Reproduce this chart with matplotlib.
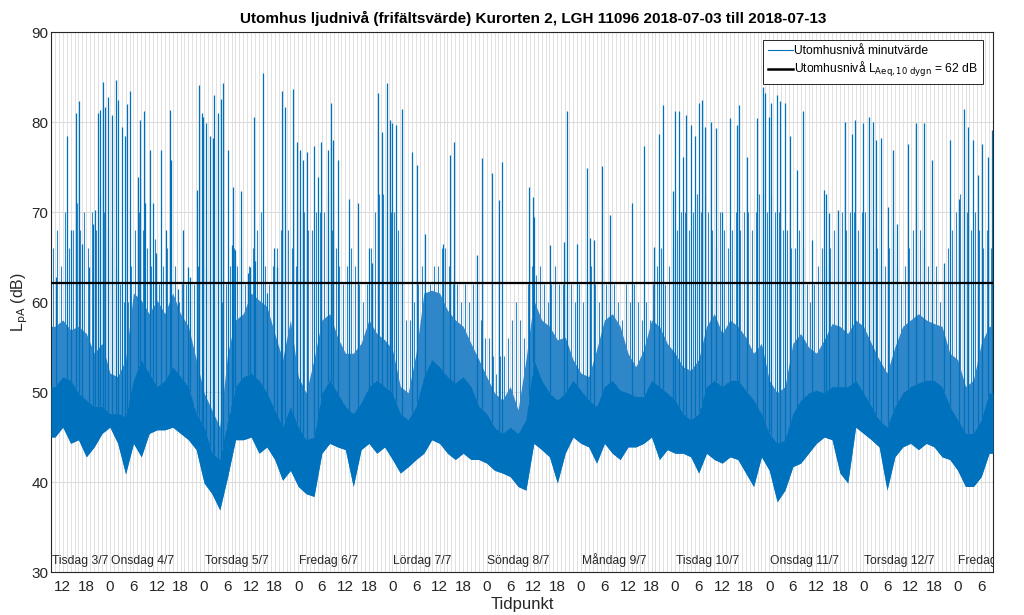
import numpy as np
import matplotlib
matplotlib.use('Agg')
import matplotlib.pyplot as plt
from matplotlib.ticker import FixedLocator, MultipleLocator
from matplotlib.lines import Line2D

plt.rcParams['font.family'] = ['Liberation Sans', 'DejaVu Sans']

# ---------------- data ----------------
START_HOUR = 9          # series starts 2018-07-03 09:00
N_HOURS = 240           # 10 days
BIN_H = 2               # envelope values per 2-hour bin

# lower envelope of the minute values (dB), per 2-hour bin
lo = [45.0, 46.1, 44.3, 44.7, 42.8, 43.9, 45.4, 46.1, 44.3, 40.9, 44.3, 42.8, 45.4, 45.8, 45.8,
      46.1, 45.4, 44.7, 43.6, 39.9, 38.7, 36.9, 40.6, 44.7, 44.7, 45.0, 43.2, 43.9, 42.5, 40.2,
      41.3, 39.5, 38.7, 38.4, 43.2, 44.3, 43.9, 43.6, 39.5, 43.6, 44.3, 43.2, 43.9, 42.5, 41.0,
      41.7, 42.5, 43.2, 44.7, 44.3, 43.2, 42.5, 43.2, 42.5, 42.5, 42.1, 41.3, 41.0, 40.6, 39.5,
      39.1, 44.3, 43.6, 42.8, 39.9, 43.2, 45.0, 44.3, 43.9, 42.1, 44.3, 43.2, 42.5, 43.9, 43.9,
      44.3, 45.0, 42.5, 43.6, 43.2, 43.2, 42.8, 41.0, 43.2, 42.5, 42.1, 42.8, 42.5, 41.0, 39.5,
      42.8, 41.3, 37.8, 39.1, 41.7, 42.1, 43.2, 44.3, 45.0, 44.7, 41.0, 39.9, 46.1, 45.4, 44.7,
      43.9, 39.1, 42.8, 43.9, 44.3, 43.6, 44.3, 43.9, 42.8, 42.5, 41.3, 39.5, 39.5, 40.6, 43.2]

# top of the dense core of the minute values (dB), per 2-hour bin
core = [50.6, 51.7, 51.3, 49.9, 49.1, 48.4, 48.4, 47.6, 47.6, 47.3, 51.3, 53.6, 52.1, 50.6, 51.3,
        52.8, 51.7, 50.6, 47.6, 46.1, 43.2, 42.5, 46.9, 50.6, 51.7, 52.1, 51.3, 49.9, 48.0, 46.1,
        48.4, 46.1, 44.7, 45.0, 49.9, 51.3, 49.9, 48.4, 47.6, 48.8, 50.6, 51.3, 50.6, 49.9, 47.6,
        46.9, 48.4, 51.7, 53.6, 52.8, 51.7, 51.0, 51.7, 50.6, 48.4, 47.6, 46.1, 45.4, 46.1, 45.4,
        46.9, 53.6, 51.3, 49.9, 49.1, 49.9, 51.3, 50.2, 49.1, 48.4, 50.6, 51.3, 50.2, 49.9, 49.5,
        49.5, 51.3, 50.6, 49.9, 49.1, 47.6, 46.9, 47.6, 50.6, 51.3, 50.6, 51.3, 51.3, 50.2, 49.1,
        47.6, 45.4, 44.3, 44.7, 47.6, 49.1, 49.9, 50.2, 49.9, 50.6, 50.6, 50.6, 51.3, 49.9, 48.4,
        46.9, 46.1, 48.4, 49.9, 50.6, 51.0, 51.3, 51.3, 50.6, 48.4, 46.9, 45.4, 45.4, 46.9, 49.9]

# top of the less dense upper fringe (dB), per 2-hour bin
fringe = [57.3, 58.0, 56.9, 57.3, 56.5, 54.3, 55.4, 52.1, 51.7, 53.6, 61.0, 60.2, 58.7, 60.2, 58.7,
          61.0, 58.7, 57.3, 53.6, 49.9, 48.0, 46.1, 54.3, 58.0, 58.7, 61.0, 60.2, 59.5, 56.5, 53.6,
          58.0, 51.7, 49.9, 53.6, 58.0, 58.7, 56.1, 54.3, 54.3, 55.4, 58.0, 56.5, 55.8, 54.7, 50.6,
          49.9, 54.3, 61.0, 61.3, 61.0, 59.1, 58.0, 57.3, 55.4, 53.6, 51.7, 49.9, 49.1, 50.6, 48.0,
          53.6, 60.2, 58.0, 57.3, 55.8, 56.1, 53.6, 52.1, 51.7, 54.7, 58.0, 58.7, 57.3, 54.3, 52.8,
          54.7, 58.0, 57.3, 55.4, 54.3, 52.8, 52.4, 53.6, 57.3, 58.7, 56.5, 58.0, 57.3, 56.1, 54.3,
          55.4, 51.3, 49.9, 50.6, 55.4, 56.5, 55.0, 54.3, 55.8, 57.6, 57.3, 56.5, 58.0, 57.3, 55.4,
          53.6, 52.1, 55.0, 57.3, 58.0, 58.7, 58.0, 57.6, 57.3, 54.3, 53.6, 50.6, 51.3, 55.4, 57.3]

# level reached by the many moderate peaks in each hour (dB), 24 per row, rows start 09:00
mod_peak = [66, 68, 64, 70, 66, 68, 71, 68, 70, 66, 70, 68, 72, 70, 68, 66, 64, 62, 60, 60, 64, 68, 70, 68,
            66, 64, 67, 62, 64, 66, 62, 64, 60, 62, 62, 60, 62, 64, 66, 64, 62, 60, 58, 60, 62, 64, 66, 64,
            66, 62, 64, 66, 68, 70, 64, 62, 64, 66, 68, 70, 68, 66, 64, 70, 70, 68, 68, 70, 70, 70, 72, 68,
            66, 64, 62, 64, 66, 64, 62, 60, 62, 66, 70, 72, 72, 70, 70, 70, 68, 66, 58, 58, 60, 62, 64, 60,
            62, 64, 64, 66, 66, 64, 62, 62, 60, 62, 60, 62, 60, 58, 56, 56, 54, 52, 54, 54, 56, 58, 60, 58,
            56, 62, 64, 63, 64, 62, 60, 62, 64, 62, 62, 60, 62, 60, 62, 60, 62, 64, 62, 60, 64, 62, 60, 62,
            60, 58, 62, 60, 62, 60, 58, 60, 58, 62, 64, 66, 62, 64, 66, 68, 70, 70, 68, 70, 72, 70, 72, 70,
            68, 66, 70, 68, 66, 68, 70, 68, 70, 70, 68, 70, 72, 72, 70, 72, 70, 70, 68, 68, 66, 66, 68, 66,
            62, 60, 62, 64, 66, 64, 66, 68, 70, 70, 68, 70, 70, 68, 70, 70, 70, 68, 66, 64, 64, 66, 68, 64,
            62, 64, 66, 68, 70, 68, 66, 64, 62, 64, 60, 62, 66, 68, 70, 72, 70, 70, 68, 70, 68, 66, 68, 66]

# isolated loud events: hours since start and peak level (dB)
spike_h = [1.4, 4.0, 5.1, 6.3, 7.1, 8.0, 9.7, 10.8, 11.2, 11.9, 12.5, 13.2, 13.8, 14.6, 15.6, 16.5,
           17.1, 18.0, 18.8, 19.3, 20.1, 22.2, 22.7, 23.7, 23.9, 25.2, 25.9, 26.7, 28.0, 29.4, 30.3,
           30.7, 32.4, 33.7, 35.0, 35.4, 37.1, 37.7, 38.4, 38.8, 39.6, 40.5, 41.2, 41.6, 42.6, 43.2,
           43.7, 45.2, 46.0, 46.4, 47.0, 48.3, 50.3, 50.7, 51.8, 52.0, 54.1, 55.1, 56.8, 57.6, 58.6,
           58.9,
           59.6, 61.7, 62.6, 63.4, 64.3, 65.1, 67.1, 67.9, 68.8, 70.7, 71.3, 71.9, 73.2, 76.0, 78.1,
           80.9, 81.7, 83.4, 84.4, 85.5, 86.4, 87.0, 87.8, 89.3, 92.1, 93.3, 95.3, 99.8, 101.7,
           102.7, 108.5, 109.7, 112.3, 114.2, 114.8,
           121.8, 122.9, 123.1, 127.1, 130.7, 131.4, 134.1, 136.5, 137.3, 138.4, 140.4, 142.3,
           147.9, 151.2, 153.7, 155.0, 155.8, 158.4, 159.1, 160.0, 160.9, 161.7, 163.1, 164.1,
           165.2, 165.8, 166.5, 168.2, 169.3, 171.0, 173.0, 174.7, 175.4, 177.2, 179.8,
           181.5, 181.9, 182.9, 183.4, 184.9, 185.7, 187.0, 188.3, 190.0, 191.7, 194.0, 197.0,
           197.4, 198.2, 200.6, 202.3, 204.0, 204.8, 207.0, 208.5, 209.5, 210.2, 211.5, 213.3,
           214.6, 215.5, 218.4, 220.4, 222.3, 224.4, 227.4, 229.0, 231.4, 232.7, 233.7, 235.0,
           236.1, 237.1, 238.8, 239.8]
spike_v = [62.8, 78.4, 68.0, 81.0, 82.3, 66.5, 63.9, 68.7, 70.2, 81.0, 81.3, 84.5, 81.7, 82.8, 80.8, 84.7,
           82.4, 79.5, 78.4, 82.0, 83.4, 73.9, 80.2, 81.2, 71.0, 76.9, 71.0, 65.4, 76.9, 68.0, 81.3,
           75.8, 61.5, 68.0, 63.9, 62.8, 72.4, 84.1, 81.0, 80.6, 79.9, 78.4, 78.2, 83.0, 81.0, 82.6,
           84.3, 76.9, 66.3, 72.8, 65.8, 72.3, 63.2, 63.9, 80.6, 64.6, 85.4, 61.0, 66.0, 63.9, 62.0,
           83.4,
           81.7, 83.7, 77.8, 76.9, 75.8, 76.7, 77.3, 73.9, 77.8, 76.9, 82.1, 78.0, 75.8, 71.5, 71.0,
           66.0, 64.3, 83.2, 78.9, 84.3, 80.2, 79.9, 79.7, 81.5, 76.7, 75.2, 67.6, 66.5, 76.3,
           77.8, 65.2, 76.0, 74.3, 71.3, 75.6,
           72.8, 71.7, 69.5, 66.3, 66.7, 81.2, 66.5, 74.9, 67.1, 66.9, 75.1, 69.7,
           71.0, 77.3, 66.1, 78.7, 81.9, 72.3, 81.2, 81.2, 76.1, 80.8, 79.7, 78.4,
           82.1, 82.4, 79.5, 80.0, 79.3, 70.0, 80.4, 79.7, 81.9, 76.1, 80.4,
           83.9, 83.2, 80.6, 82.1, 83.0, 82.3, 82.1, 78.4, 74.7, 81.2, 66.9, 72.4,
           72.0, 69.9, 70.2, 80.0, 78.7, 80.2, 79.9, 80.6, 80.0, 78.0, 78.2, 70.6,
           76.9, 68.7, 77.6, 79.9, 79.9, 75.8, 64.3, 78.0, 71.5, 81.5, 79.5, 78.0,
           74.1, 77.6, 76.1, 79.1]

LAEQ = 62.1
day_names = ['Tisdag 3/7', 'Onsdag 4/7', 'Torsdag 5/7', 'Fredag 6/7', 'Lördag 7/7',
             'Söndag 8/7', 'Måndag 9/7', 'Tisdag 10/7', 'Onsdag 11/7', 'Torsdag 12/7',
             'Fredag 13/7']

title = 'Utomhus ljudnivå (frifältsvärde) Kurorten 2, LGH 11096 2018-07-03 till 2018-07-13'

# ---------------- drawing ----------------
BLUE = '#0072BD'
lo_a = np.array(lo)
core_a = np.array(core)
fr_a = np.array(fringe)
nb = len(lo_a)
xc = np.arange(nb) * BIN_H + BIN_H / 2.0
xe = np.concatenate([[0], xc, [N_HOURS]])
def ext(a):
    return np.concatenate([[a[0]], a, [a[-1]]])

fig = plt.figure(figsize=(10.24, 6.15), dpi=100)
ax = fig.add_axes([51 / 1024, 1 - 572 / 615, 942 / 1024, 540 / 615])

ax.fill_between(xe, ext(lo_a), ext(fr_a), color='#2f86c9', lw=0, zorder=2)
ax.fill_between(xe, ext(lo_a), ext(core_a), color=BLUE, lw=0, zorder=3)

# moderate peaks, one per hour
mh = np.arange(len(mod_peak)) + 0.5
ax.vlines(mh, np.interp(mh, xc, core_a), mod_peak, color='#2f86c9', lw=0.8, zorder=3)

# isolated loud events
sh = np.array(spike_h)
sv = np.array(spike_v)
base = np.interp(sh, xc, core_a)
ax.vlines(sh, base, sv, color=BLUE, lw=0.9, zorder=4)

ax.axhline(LAEQ, color='black', lw=1.6, zorder=5)

ax.set_xlim(0, N_HOURS)
ax.set_ylim(30, 90)

# ticks every 6 hours, labelled with the hour of day
tick_h = [h for h in range(N_HOURS + 1) if (START_HOUR + h) % 6 == 0]
ax.xaxis.set_major_locator(FixedLocator(tick_h))
ax.set_xticklabels([str((START_HOUR + h) % 24) for h in tick_h])
ax.xaxis.set_minor_locator(MultipleLocator(1))
ax.yaxis.set_major_locator(MultipleLocator(10))

ax.grid(True, which='minor', axis='x', color='#dcdcdc', lw=0.6, zorder=0)
ax.grid(True, which='major', axis='x', color='#dcdcdc', lw=0.6, zorder=0)
ax.grid(True, which='major', axis='y', color='#dcdcdc', lw=0.8, zorder=0)
ax.set_axisbelow(True)

ax.tick_params(axis='both', which='both', direction='in', length=0, labelsize=11,
               colors='#262626')
ax.tick_params(axis='x', pad=6)
ax.tick_params(axis='y', pad=2)
for s in ax.spines.values():
    s.set_color('#262626')
    s.set_linewidth(0.8)

# day labels at midnight inside the axes
for i, name in enumerate(day_names):
    hx = 0 if i == 0 else 24 * i - START_HOUR
    ax.text(hx + 0.2, 30.6, name, fontsize=8.7, color='#262626', ha='left', va='bottom',
            clip_on=True, zorder=6)

ax.set_xlabel('Tidpunkt', fontsize=12, color='#262626', labelpad=2)
ax.set_ylabel(r'L$_{\mathrm{pA}}$ (dB)', fontsize=11.5, color='#262626', labelpad=1)
fig.text(533 / 1024, 1 - 18 / 615, title, fontsize=11, fontweight='bold', color='black',
         ha='center', va='center')

handles = [Line2D([], [], color=BLUE, lw=0.8),
           Line2D([], [], color='black', lw=1.8)]
labels = ['Utomhusnivå minutvärde',
          r'Utomhusnivå L$_{\mathrm{Aeq,10\ dygn}}$ = 62 dB']
leg = ax.legend(handles, labels, loc='upper right', bbox_to_anchor=(983 / 1024, 1 - 40 / 615),
                bbox_transform=fig.transFigure, borderaxespad=0,
                fontsize=8.7, frameon=True, fancybox=False,
                edgecolor='#262626', framealpha=1, handlelength=2.0, handletextpad=0.1,
                borderpad=0.45, labelspacing=0.2)
leg.get_frame().set_linewidth(0.7)
leg.set_zorder(10)

fig.savefig('out.png', dpi=100, facecolor='white')
